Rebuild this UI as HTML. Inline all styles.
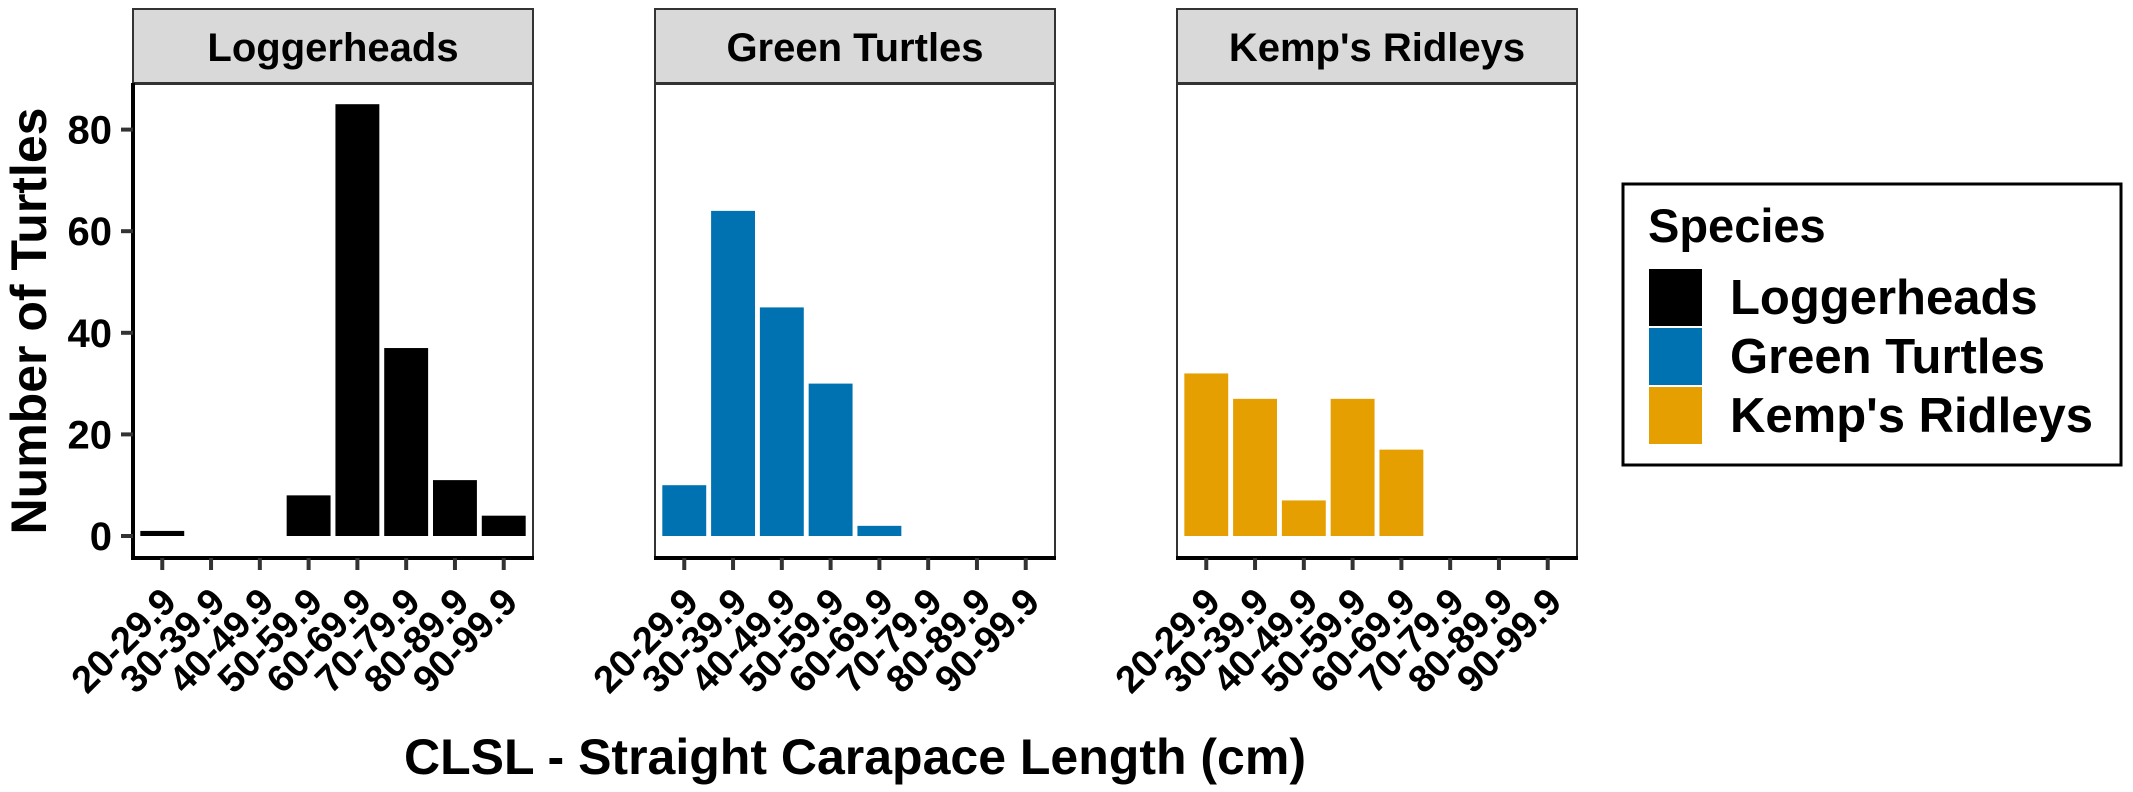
<!DOCTYPE html>
<html><head><meta charset="utf-8"><style>
html,body{margin:0;padding:0;background:#fff;}
svg{display:block;font-family:"Liberation Sans",Arial,sans-serif;font-weight:bold;}
</style></head><body>
<svg id="chart" width="2133" height="792" viewBox="0 0 2133 792" xmlns="http://www.w3.org/2000/svg">
<g id="panels"></g>
<text x="855" y="774" font-size="50" text-anchor="middle">CLSL - Straight Carapace Length (cm)</text>
<text transform="translate(46,321) rotate(-90)" font-size="50" text-anchor="middle">Number of Turtles</text>
<g>
<rect x="1623" y="184" width="498" height="281" fill="#fff" stroke="#000" stroke-width="3"/>
<text x="1648" y="242" font-size="47">Species</text>
<rect x="1649" y="269" width="53" height="57" fill="#000"/>
<text x="1730" y="314" font-size="49">Loggerheads</text>
<rect x="1649" y="328" width="53" height="57" fill="#0072B2"/>
<text x="1730" y="373" font-size="49">Green Turtles</text>
<rect x="1649" y="387" width="53" height="57" fill="#E69F00"/>
<text x="1730" y="432" font-size="49">Kemp's Ridleys</text>
</g>
</svg>
<script>
const categories = ["20-29.9","30-39.9","40-49.9","50-59.9","60-69.9","70-79.9","80-89.9","90-99.9"];
const species = ["Loggerheads","Green Turtles","Kemp's Ridleys"];
const loggerheadCounts = [1,0,0,8,85,37,11,4];
const greenCounts = [10,64,45,30,2,0,0,0];
const kempCounts = [32,27,7,27,17,0,0,0];
const yTicks = [0,20,40,60,80];
const colors = ["#000000","#0072B2","#E69F00"];
const seriesList = [loggerheadCounts, greenCounts, kempCounts];

const NS = "http://www.w3.org/2000/svg";
const panelLefts = [133, 655, 1177];
const panelW = 400, panelTop = 84, panelBottom = 558;
const y0 = 536, pxPerUnit = 5.08;
function yScale(v){ return y0 - v * pxPerUnit; }
function xScale(i, left){ const step = panelW / (categories.length - 1 + 1.2); return left + step * (0.6 + i); }
function bandW(){ return panelW / (categories.length - 1 + 1.2) * 0.9; }
function mk(tag, attrs, parent){ const e = document.createElementNS(NS, tag); for (const k in attrs) e.setAttribute(k, attrs[k]); parent.appendChild(e); return e; }

const root = document.getElementById('panels');
species.forEach((sp, p) => {
  const L = panelLefts[p];
  const g = mk('g', {}, root);
  
  
  const strip = mk('rect', {x: L, y: 9, width: panelW, height: 74, fill: '#d9d9d9', stroke: '#333', 'stroke-width': 2}, g);
  
  
  const st = mk('text', {x: L + panelW/2, y: 61, 'font-size': 40, 'text-anchor': 'middle'}, g);
  st.textContent = sp;
  
  
  const bg = mk('rect', {x: L, y: panelTop, width: panelW, height: panelBottom - panelTop, fill: '#fff', stroke: '#333', 'stroke-width': 2}, g);
  
  
  const vals = seriesList[p];
  vals.forEach((v, i) => {
    if (v <= 0) return;
    const cx = xScale(i, L), bw = bandW();
    const r = mk('rect', {x: cx - bw/2, y: yScale(v), width: bw, height: yScale(0) - yScale(v), fill: colors[p]}, g);
    
    
  });
  const ax = mk('line', {x1: L - 1, y1: panelBottom, x2: L + panelW + 1, y2: panelBottom, stroke: '#000', 'stroke-width': 4}, g);
  
  
  categories.forEach((c, i) => {
    const cx = xScale(i, L);
    const t = mk('line', {x1: cx, y1: panelBottom, x2: cx, y2: 570, stroke: '#333', 'stroke-width': 4}, g);
    
    
    const lb = mk('text', {transform: 'translate(' + (cx + 16) + ',604) rotate(-45)', 'font-size': 38, 'text-anchor': 'end'}, g);
    lb.textContent = c;
    
    
  });
  if (p === 0) {
    const yl = mk('line', {x1: L, y1: panelTop - 1, x2: L, y2: panelBottom + 2, stroke: '#000', 'stroke-width': 4}, g);
    
    
    yTicks.forEach(v => {
      const t = mk('line', {x1: 121, y1: yScale(v), x2: L, y2: yScale(v), stroke: '#333', 'stroke-width': 4}, g);
      
      
      const lb = mk('text', {x: 112, y: yScale(v) + 14, 'font-size': 40, 'text-anchor': 'end'}, g);
      lb.textContent = v;
      
      
    });
  }
});
</script>
</body></html>
